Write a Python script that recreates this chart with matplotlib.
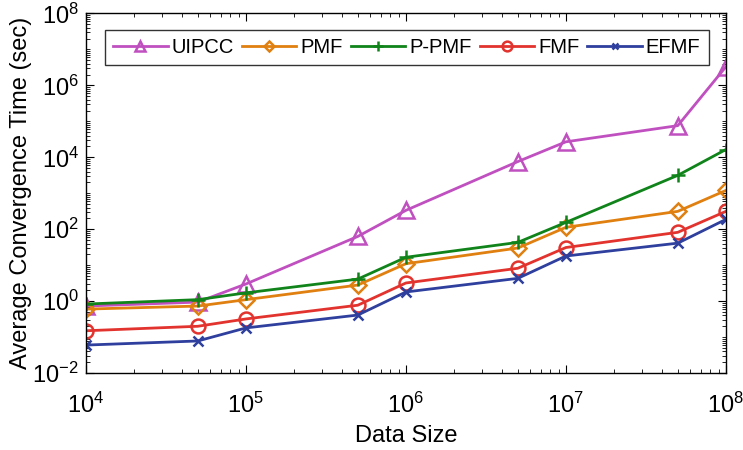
import matplotlib
matplotlib.use("Agg")
import matplotlib.pyplot as plt
from matplotlib.ticker import LogLocator, NullFormatter, FixedLocator

plt.rcParams['font.family'] = ['Liberation Sans', 'DejaVu Sans']
plt.rcParams['mathtext.fontset'] = 'custom'
plt.rcParams['mathtext.rm'] = 'Liberation Sans'
plt.rcParams['mathtext.it'] = 'Liberation Sans'

# data sizes
sizes = [1e4, 5e4, 1e5, 5e5, 1e6, 5e6, 1e7, 5e7, 1e8]

uipcc = [0.73, 0.94, 3.0, 63, 335, 7600, 2.7e4, 7.6e4, 3.3e6]
pmf = [0.6, 0.73, 1.1, 2.8, 11, 30, 113, 314, 1200]
ppmf = [0.83, 1.1, 1.7, 4.1, 16.6, 43, 155, 3150, 1.65e4]
fmf = [0.15, 0.2, 0.32, 0.77, 3.2, 8.2, 31, 82, 314]
efmf = [0.06, 0.078, 0.18, 0.41, 1.8, 4.3, 18, 41, 188]

names = ["UIPCC", "PMF", "P-PMF", "FMF", "EFMF"]
colors = ["#C050C0", "#E08010", "#10841A", "#E2332E", "#2E3F9E"]
markers = ["^", "D", "+", "o", "x"]
sizes_m = [11, 8, 10, 10, 7]

fig = plt.figure(figsize=(7.43, 4.5), dpi=100)
ax = fig.add_axes([0.1157, 0.171, 0.8613, 0.799])

series = [uipcc, pmf, ppmf, fmf, efmf]
for vals, name, c, m, ms in zip(series, names, colors, markers, sizes_m):
    ax.plot(sizes, vals, color=c, marker=m, markersize=ms, linewidth=2,
            markerfacecolor='none', markeredgewidth=1.8, label=name)

ax.set_xscale('log')
ax.set_yscale('log')
ax.set_xlim(1e4, 1e8)
ax.set_ylim(1e-2, 1e8)

ax.xaxis.set_major_locator(FixedLocator([1e4, 1e5, 1e6, 1e7, 1e8]))
ax.xaxis.set_minor_locator(LogLocator(base=10, subs=range(2, 10), numticks=20))
ax.set_xticklabels([r'$10^{4}$', r'$10^{5}$', r'$10^{6}$', r'$10^{7}$', r'$10^{8}$'])
ax.xaxis.set_minor_formatter(NullFormatter())

ax.yaxis.set_major_locator(FixedLocator([1e-2, 1e0, 1e2, 1e4, 1e6, 1e8]))
ax.yaxis.set_minor_locator(LogLocator(base=10, subs=range(1, 10), numticks=30))
ax.set_yticklabels([r'$10^{-2}$', r'$10^{0}$', r'$10^{2}$', r'$10^{4}$', r'$10^{6}$', r'$10^{8}$'])
ax.yaxis.set_minor_formatter(NullFormatter())

ax.tick_params(which='both', direction='in', top=True, right=True, labelsize=17)
ax.tick_params(axis='x', pad=14)
ax.tick_params(axis='y', pad=5)
ax.tick_params(which='major', length=6)
ax.tick_params(which='minor', length=3)
for s in ax.spines.values():
    s.set_linewidth(1.0)

ax.set_xlabel("Data Size", fontsize=17, labelpad=5)
ax.set_ylabel("Average Convergence Time (sec)", fontsize=17, labelpad=0)

leg = ax.legend(loc='upper left', bbox_to_anchor=(0.03, 0.955), ncol=5, fontsize=14.5,
                frameon=True, fancybox=False, edgecolor='black', handlelength=2.7,
                columnspacing=0.4, handletextpad=0.2, borderpad=0.4,
                borderaxespad=0, markerscale=0.7)
leg.get_frame().set_linewidth(1.0)

fig.savefig("out.png", dpi=100)
